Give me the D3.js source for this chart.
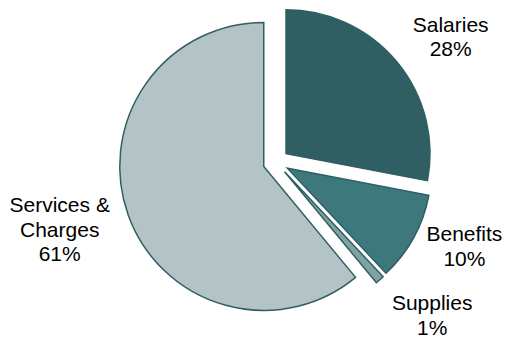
<!DOCTYPE html>
<html>
<head>
<meta charset="utf-8">
<script src="https://cdn.jsdelivr.net/npm/d3@7"></script>
<style>
  body { margin: 0; background: #fff; }
  .label-text { font-family: "Liberation Sans", Arial, sans-serif; font-size: 21px; fill: #000; }
</style>
</head>
<body>
<script>
var width = 505, height = 339;

// data
var categories = ["Salaries", "Benefits", "Supplies", "Services & Charges"];
var shares = [28, 10, 1, 61];
var labelLines = [["Salaries", "28%"], ["Benefits", "10%"], ["Supplies", "1%"], ["Services &", "Charges", "61%"]];
var colors = ["#2f5f63", "#3d787c", "#7fa3a5", "#b3c3c6"];

var center = {x: 276, y: 162}
    , radius = 144
    , explode = 13
    , labelRadius = 215
    , lineHeight = 24.5;

// small nudges so labels sit like the original's best-fit placement
var labelNudge = [[9, 12], [0, -19], [14, -8], [-14, -5]];

var slices = categories.map(function(c, i) {
    return {name: c, value: shares[i], color: colors[i], lines: labelLines[i], nudge: labelNudge[i]};
});

var pie = d3.pie()
    .sort(null)
    .value(function(d) { return d.value; });

var arc = d3.arc()
    .innerRadius(0)
    .outerRadius(radius);

var labelArc = d3.arc()
    .innerRadius(labelRadius)
    .outerRadius(labelRadius);

var svg = d3.select("body").append("svg")
    .attr("width", width)
    .attr("height", height)
    .append("g")
    .attr("transform", "translate(" + center.x + "," + center.y + ")");

var arcs = pie(slices);

svg.selectAll(".slice")
    .data(arcs)
    .enter()
    .append("path")
    .attr("class", "slice")
    .attr("d", arc)
    .attr("transform", function(d) {
        var mid = (d.startAngle + d.endAngle) / 2;
        return "translate(" + (Math.sin(mid) * explode) + "," + (-Math.cos(mid) * explode) + ")";
    })
    .attr("fill", function(d) { return d.data.color; })
    .attr("stroke", "#2f5f63")
    .attr("stroke-width", 1.5)
    .attr("stroke-linejoin", "miter");

var labels = svg.selectAll(".label")
    .data(arcs)
    .enter()
    .append("text")
    .attr("class", "label-text")
    .attr("text-anchor", "middle")
    .attr("transform", function(d) {
        var c = labelArc.centroid(d);
        return "translate(" + (c[0] + d.data.nudge[0]) + "," + (c[1] + d.data.nudge[1]) + ")";
    });

labels.each(function(d) {
    var n = d.data.lines.length;
    d3.select(this).selectAll("tspan")
        .data(d.data.lines)
        .enter()
        .append("tspan")
        .attr("x", 0)
        .attr("y", function(t, i) { return (i - (n - 1) / 2) * lineHeight + 7; })
        .text(function(t) { return t; });
});
</script>
</body>
</html>
